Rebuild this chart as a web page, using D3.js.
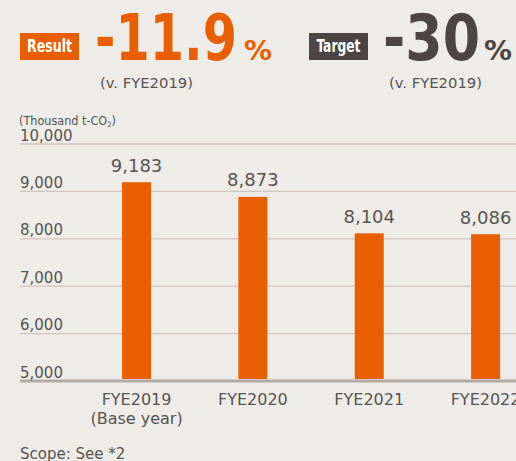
<!DOCTYPE html>
<html>
<head>
<meta charset="utf-8">
<script src="https://cdn.jsdelivr.net/npm/d3@7"></script>
<style>
  html, body { margin: 0; padding: 0; background: #eeece8; overflow: hidden; }
  svg { display: block; }
</style>
</head>
<body>
<svg id="chart" width="516" height="461"></svg>
<script>
// Emissions data (thousand t-CO2)
const categories = ["FYE2019", "FYE2020", "FYE2021", "FYE2022"];
const subLabels = ["(Base year)", "", "", ""];
const emissions = [9183, 8873, 8104, 8086];
const yTicks = [5000, 6000, 7000, 8000, 9000, 10000];

const resultValue = "-11.9";
const targetValue = "-30";

const orange = "#e95f00";
const darkGray = "#4b4643";
const textGray = "#585452";
const condensed = "'Liberation Sans Narrow', 'DejaVu Sans Condensed', 'Roboto Condensed', 'Liberation Sans', sans-serif";
const regular = "'DejaVu Sans', sans-serif";

const svg = d3.select("#chart");
const W = 516, H = 461;

svg.append("rect").attr("width", W).attr("height", H).attr("fill", "#eeece8");

// ---- Headline figures ----
function headline(g, opts) {
  g.append("rect")
    .attr("x", opts.boxX).attr("y", 33).attr("width", opts.boxW).attr("height", 27)
    .attr("fill", opts.color);
  g.append("text")
    .attr("x", opts.boxX + opts.boxW / 2).attr("y", 52)
    .attr("text-anchor", "middle")
    .attr("font-family", condensed).attr("font-weight", "bold").attr("font-size", 17)
    .attr("textLength", opts.labelW).attr("lengthAdjust", "spacingAndGlyphs")
    .attr("fill", "#fff").text(opts.label);
  g.append("text")
    .attr("x", opts.numX).attr("y", 60)
    .attr("font-family", condensed).attr("font-weight", "bold").attr("font-size", 64)
    .attr("textLength", opts.numW).attr("lengthAdjust", "spacingAndGlyphs")
    .attr("fill", opts.color).text(opts.value);
  g.append("text")
    .attr("x", opts.pctX).attr("y", 60)
    .attr("font-family", condensed).attr("font-weight", "bold").attr("font-size", 27)
    .attr("textLength", 28).attr("lengthAdjust", "spacingAndGlyphs")
    .attr("fill", opts.color).text("%");
  g.append("text")
    .attr("x", opts.noteX).attr("y", 88)
    .attr("font-family", regular).attr("font-size", 14.6)
    .attr("textLength", 93).attr("lengthAdjust", "spacingAndGlyphs")
    .attr("fill", textGray).text("(v. FYE2019)");
}

headline(svg.append("g"), {
  boxX: 20, boxW: 59, color: orange, label: "Result", labelW: 45,
  value: resultValue, numX: 95, numW: 142, pctX: 244, noteX: 100
});
headline(svg.append("g"), {
  boxX: 309, boxW: 59, color: darkGray, label: "Target", labelW: 44,
  value: targetValue, numX: 383, numW: 97, pctX: 484, noteX: 389
});

// ---- Bar chart ----
const y = d3.scaleLinear().domain([5000, 10000]).range([380.5, 143.5]);
const x = d3.scaleBand().domain(categories).range([78.4, 543.7])
  .paddingInner(0.7507).paddingOuter(0.375);

// Axis unit title
const unit = svg.append("text")
  .attr("x", 19).attr("y", 125)
  .attr("font-family", condensed).attr("font-size", 12.5)
  .attr("fill", textGray);
unit.append("tspan").text("(Thousand t-CO");
unit.append("tspan").attr("font-size", 7.5).attr("dy", 2).text("2");
unit.append("tspan").attr("dy", -2).text(")");

// Gridlines and tick labels
const yAxis = d3.axisLeft(y).tickValues(yTicks).tickSize(0).tickFormat(d3.format(","));
const axisG = svg.append("g").call(yAxis);
axisG.select(".domain").remove();
axisG.selectAll(".tick").each(function (d) {
  const t = d3.select(this);
  t.select("line").remove();
  t.insert("line", "text")
    .attr("x1", 20).attr("x2", W)
    .attr("y1", 0).attr("y2", 0)
    .attr("stroke", d === 5000 ? "#b2aaa3" : "#cfc6c1")
    .attr("stroke-width", d === 5000 ? 3 : 1.3);
  t.select("text")
    .attr("x", 20).attr("dy", -3.5)
    .attr("text-anchor", "start")
    .attr("font-family", regular).attr("font-size", 15)
    .attr("fill", textGray);
});

// Bars
svg.append("g").selectAll("rect")
  .data(emissions)
  .join("rect")
  .attr("x", (d, i) => x(categories[i]))
  .attr("width", x.bandwidth())
  .attr("y", d => y(d))
  .attr("height", d => y(5000) - 1.5 - y(d))
  .attr("fill", orange);

// Value labels
svg.append("g").selectAll("text")
  .data(emissions)
  .join("text")
  .attr("x", (d, i) => x(categories[i]) + x.bandwidth() / 2)
  .attr("y", d => y(d) - 10.5)
  .attr("text-anchor", "middle")
  .attr("font-family", regular).attr("font-size", 18)
  .attr("fill", textGray)
  .text(d => d3.format(",")(d));

// Category labels
const xl = svg.append("g").selectAll("text")
  .data(categories)
  .join("text")
  .attr("x", d => x(d) + x.bandwidth() / 2)
  .attr("y", 405)
  .attr("text-anchor", "middle")
  .attr("font-family", regular).attr("font-size", 16)
  .attr("fill", textGray);
xl.append("tspan").text(d => d);
xl.append("tspan")
  .attr("x", d => x(d) + x.bandwidth() / 2)
  .attr("dy", 18.5)
  .text((d, i) => subLabels[i]);

// Footnote
svg.append("text")
  .attr("x", 20).attr("y", 459)
  .attr("font-family", regular).attr("font-size", 15)
  .attr("fill", textGray)
  .text("Scope: See *2");
</script>
</body>
</html>
